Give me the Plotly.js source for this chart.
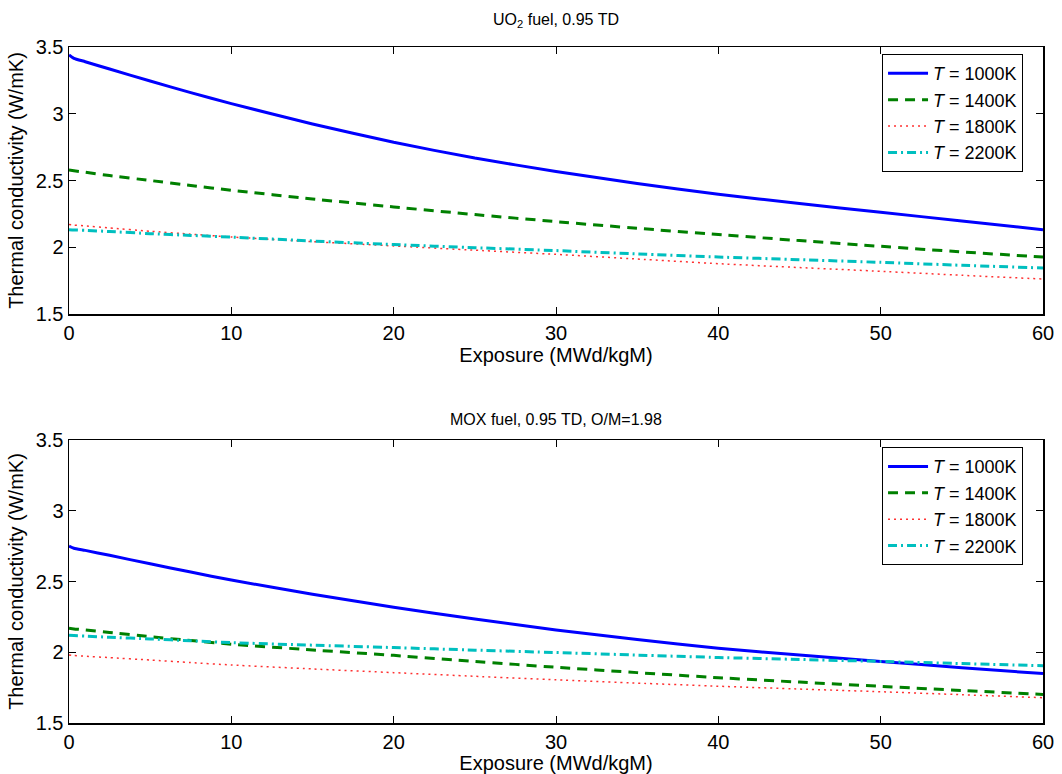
<!DOCTYPE html>
<html>
<head>
<meta charset="utf-8">
<script src="https://cdn.plot.ly/plotly-3.0.1.min.js"></script>
<style>html,body{margin:0;padding:0;background:#fff;}#chart{width:1062px;height:774px;}</style>
</head>
<body>
<div id="chart"></div>
<script>
// Exposure (MWd/kgM)
const exposure = [0, 0.3, 1, 2.5, 5, 7.5, 10, 15, 20, 25, 30, 35, 40, 45, 50, 55, 60];
const seriesNames = ['<i>T</i> = 1000K', '<i>T</i> = 1400K', '<i>T</i> = 1800K', '<i>T</i> = 2200K'];

// UO2 fuel, 0.95 TD
const uo2_1000 = [3.44, 3.415, 3.39, 3.335, 3.245, 3.158, 3.076, 2.923, 2.786, 2.668, 2.568, 2.478, 2.397, 2.327, 2.262, 2.197, 2.132];
const uo2_1400 = [2.578, 2.573, 2.562, 2.537, 2.50, 2.463, 2.427, 2.362, 2.302, 2.245, 2.192, 2.142, 2.095, 2.05, 2.007, 1.965, 1.927];
const uo2_1800 = [2.17, 2.166, 2.16, 2.145, 2.12, 2.098, 2.077, 2.042, 2.01, 1.978, 1.947, 1.912, 1.877, 1.848, 1.82, 1.79, 1.762];
const uo2_2200 = [2.132, 2.13, 2.127, 2.118, 2.102, 2.089, 2.076, 2.047, 2.02, 1.997, 1.975, 1.95, 1.927, 1.907, 1.887, 1.865, 1.845];

// MOX fuel, 0.95 TD, O/M=1.98
const mox_1000 = [2.75, 2.735, 2.72, 2.685, 2.625, 2.567, 2.51, 2.41, 2.318, 2.235, 2.158, 2.09, 2.028, 1.98, 1.935, 1.891, 1.849];
const mox_1400 = [2.17, 2.165, 2.158, 2.14, 2.11, 2.083, 2.057, 2.016, 1.978, 1.935, 1.894, 1.856, 1.82, 1.789, 1.759, 1.73, 1.702];
const mox_1800 = [1.98, 1.977, 1.972, 1.962, 1.945, 1.927, 1.91, 1.882, 1.856, 1.83, 1.806, 1.782, 1.76, 1.74, 1.721, 1.70, 1.679];
const mox_2200 = [2.12, 2.118, 2.114, 2.106, 2.094, 2.081, 2.068, 2.05, 2.033, 2.015, 1.998, 1.98, 1.963, 1.949, 1.935, 1.92, 1.905];

const xTickVals = [0, 10, 20, 30, 40, 50, 60];
const yTickVals = [1.5, 2, 2.5, 3, 3.5];
const panelTitles = ['UO<sub>2</sub> fuel, 0.95 TD', 'MOX fuel, 0.95 TD, O/M=1.98'];
const xTitle = 'Exposure (MWd/kgM)';
const yTitle = 'Thermal conductivity (W/mK)';

const styles = [
  {color: '#0000ff', width: 3, dash: 'solid'},
  {color: '#008000', width: 3, dash: '10px,7px'},
  {color: '#ff3030', width: 1.5, dash: '2px,4px'},
  {color: '#00bfbf', width: 3, dash: '9px,4px,2px,4px'}
];

const topSeries = [uo2_1000, uo2_1400, uo2_1800, uo2_2200];
const botSeries = [mox_1000, mox_1400, mox_1800, mox_2200];

const traces = [];
topSeries.forEach((ys, i) => traces.push({
  x: exposure, y: ys, type: 'scatter', mode: 'lines', name: seriesNames[i],
  line: Object.assign({shape: 'spline', smoothing: 0.5}, styles[i]),
  xaxis: 'x', yaxis: 'y', legend: 'legend'
}));
botSeries.forEach((ys, i) => traces.push({
  x: exposure, y: ys, type: 'scatter', mode: 'lines', name: seriesNames[i],
  line: Object.assign({shape: 'spline', smoothing: 0.5}, styles[i]),
  xaxis: 'x2', yaxis: 'y2', legend: 'legend2'
}));

const font = {family: 'Liberation Sans, Arial, sans-serif', color: '#000'};
function xAxis(anchor) {
  return {
    anchor: anchor, domain: [0, 1], range: [0, 60], tickvals: xTickVals,
    showline: true, mirror: 'ticks', linecolor: '#000', linewidth: 1.5,
    ticks: 'inside', ticklen: 7, tickcolor: '#000', tickwidth: 1,
    showgrid: false, zeroline: false,
    tickfont: Object.assign({size: 20}, font),
    title: {text: xTitle, font: Object.assign({size: 20}, font), standoff: 2}
  };
}
function yAxis(anchor, domain) {
  return {
    anchor: anchor, domain: domain, range: [1.5, 3.5], tickvals: yTickVals,
    showline: true, mirror: 'ticks', linecolor: '#000', linewidth: 1.5,
    ticks: 'inside', ticklen: 7, tickcolor: '#000', tickwidth: 1,
    showgrid: false, zeroline: false,
    tickfont: Object.assign({size: 20}, font),
    title: {text: yTitle, font: Object.assign({size: 20}, font), standoff: 6}
  };
}
const legendBase = {
  xref: 'paper', yref: 'paper', xanchor: 'right', yanchor: 'top',
  bgcolor: '#fff', bordercolor: '#000', borderwidth: 1,
  font: Object.assign({size: 18}, font), tracegroupgap: 0, itemwidth: 40
};

const layout = {
  width: 1062, height: 774,
  margin: {l: 69, r: 19, t: 47, b: 51},
  paper_bgcolor: '#fff', plot_bgcolor: '#fff',
  showlegend: true,
  xaxis: xAxis('y'),
  yaxis: yAxis('x', [0.605, 1]),
  xaxis2: xAxis('y2'),
  yaxis2: yAxis('x2', [0, 0.4186]),
  legend: Object.assign({x: 0.9795, y: 0.9896}, legendBase),
  legend2: Object.assign({x: 0.9795, y: 0.408}, legendBase),
  annotations: [
    {text: panelTitles[0], xref: 'paper', yref: 'paper', x: 0.5, y: 1, yshift: 27,
     xanchor: 'center', yanchor: 'middle', showarrow: false, font: Object.assign({size: 16}, font)},
    {text: panelTitles[1], xref: 'paper', yref: 'paper', x: 0.5, y: 0.4186, yshift: 21,
     xanchor: 'center', yanchor: 'middle', showarrow: false, font: Object.assign({size: 16}, font)}
  ]
};

Plotly.newPlot('chart', traces, layout, {displayModeBar: false, staticPlot: true});
</script>
</body>
</html>
